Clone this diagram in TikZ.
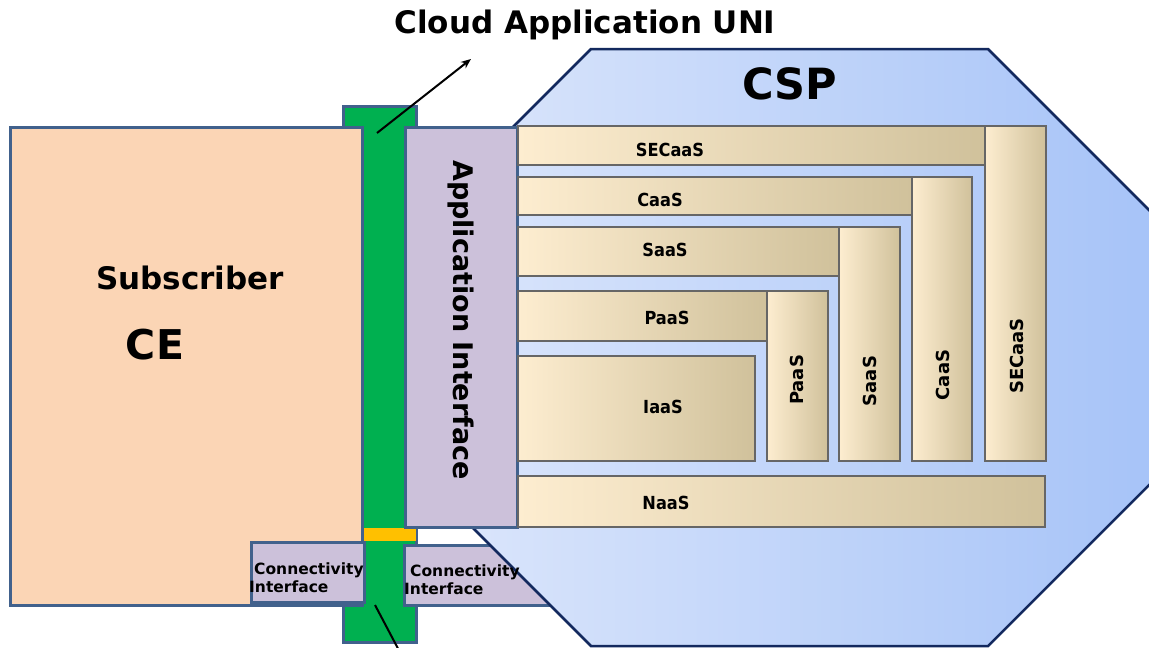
\documentclass[tikz,border=0pt]{standalone}
\usepackage{fontspec}
\setmainfont{DejaVu Sans}
\newfontfamily\condfont{DejaVu Sans Condensed}
\usetikzlibrary{arrows.meta}
\definecolor{peach}{HTML}{FBD5B5}
\definecolor{bordc}{HTML}{41618C}
\definecolor{unigreen}{HTML}{00B050}
\definecolor{uniorange}{HTML}{FFC000}
\definecolor{lav}{HTML}{CCC1DA}
\definecolor{octL}{HTML}{DDE7FB}
\definecolor{octR}{HTML}{A6C3F8}
\definecolor{octB}{HTML}{13295E}
\definecolor{barL}{HTML}{FDEDD0}
\definecolor{barM}{HTML}{EFE6D0}
\definecolor{barR}{HTML}{D0C19B}
\definecolor{barB}{HTML}{666666}
\begin{document}
\begin{tikzpicture}[x=1pt,y=-1pt,
  box/.style={draw=bordc, line width=3pt, inner sep=0pt, outer sep=0pt, anchor=north west},
  bar/.style={draw=barB, line width=2pt, left color=barL, middle color=barM, right color=barR, inner sep=0pt, outer sep=0pt, anchor=north west},
  hlab/.style={font=\condfont\bfseries\fontsize{18}{18}\selectfont, inner sep=0pt},
  vlab/.style={font=\bfseries\fontsize{18}{18}\selectfont, inner sep=0pt, rotate=90},
  cilab/.style={font=\bfseries\fontsize{15.5}{17.5}\selectfont, inner sep=0pt, align=left, anchor=north west},
  conn/.style={line width=2pt, black}
]
\useasboundingbox (0,0) rectangle (1149,648);
\clip (0,0) rectangle (1149,648);
\fill[white] (0,0) rectangle (1149,648);

% green UNI bar and orange strip
\node[box, fill=unigreen, minimum width=73pt, minimum height=536pt] (uni) at (343,106) {};
\node[fill=uniorange, inner sep=0pt, outer sep=0pt, anchor=north west, minimum width=53pt, minimum height=13pt] (strip) at (363,528) {};

% right connectivity box (behind the CSP octagon)
\node[box, fill=lav, minimum width=160pt, minimum height=60pt] (ciR) at (404,545) {};

% CSP octagon
\path[draw=octB, line width=2.5pt, left color=octL, right color=octR]
  (591,49) -- (988,49) -- (1160,221) -- (1160,474) -- (988,646) -- (591,646) -- (419,474) -- (419,221) -- cycle;
\node[font=\bfseries\fontsize{43}{43}\selectfont, inner sep=0pt] (csp) at (790,84) {CSP};

% subscriber
\node[box, fill=peach, minimum width=352pt, minimum height=478pt] (sub) at (10,127) {};
\node[font=\bfseries\fontsize{31}{31}\selectfont, inner sep=0pt] (subl) at (190,278) {Subscriber};
\node[font=\bfseries\fontsize{41}{41}\selectfont, inner sep=0pt] (ce) at (155,345) {CE};

% application interface
\node[box, fill=lav, minimum width=112pt, minimum height=400pt] (ai) at (405,127) {};
\node[font=\bfseries\fontsize{27}{27}\selectfont, inner sep=0pt, rotate=-90] (ail) at (461,320) {Application Interface};

% left connectivity interface
\node[box, fill=lav, minimum width=113pt, minimum height=60pt] (ciL) at (251,542) {};
\node[cilab] (ciLl) at (249,563) {\hspace*{5pt}Connectivity\\Interface};
\node[cilab] (ciRl) at (404,565) {\hspace*{6pt}Connectivity\\Interface};

% service bars
\node[bar, minimum width=467pt, minimum height=39pt] (secH) at (518,126) {};
\node[bar, minimum width=61pt, minimum height=335pt] (secV) at (985,126) {};
\node[bar, minimum width=394pt, minimum height=38pt] (caaH) at (518,177) {};
\node[bar, minimum width=60pt, minimum height=284pt] (caaV) at (912,177) {};
\node[bar, minimum width=321pt, minimum height=49pt] (saaH) at (518,227) {};
\node[bar, minimum width=61pt, minimum height=234pt] (saaV) at (839,227) {};
\node[bar, minimum width=249pt, minimum height=50pt] (paaH) at (518,291) {};
\node[bar, minimum width=61pt, minimum height=170pt] (paaV) at (767,291) {};
\node[bar, minimum width=237pt, minimum height=105pt] (iaa) at (518,356) {};
\node[bar, minimum width=527pt, minimum height=51pt] (naa) at (518,476) {};

\node[hlab] (secHl) at (670,150) {SECaaS};
\node[hlab] (caaHl) at (660,200) {CaaS};
\node[hlab] (saaHl) at (665,250) {SaaS};
\node[hlab] (paaHl) at (667,318) {PaaS};
\node[hlab] (iaal) at (663,407) {IaaS};
\node[hlab] (naal) at (666,503) {NaaS};

\node[vlab] (paaVl) at (797,380) {PaaS};
\node[vlab] (saaVl) at (870,381) {SaaS};
\node[vlab] (caaVl) at (943,375) {CaaS};
\node[vlab] (secVl) at (1017,356) {SECaaS};

% title and pointers
\node[font=\bfseries\fontsize{31}{31}\selectfont, inner sep=0pt] (title) at (585,25) {Cloud Application UNI};
\coordinate (upA) at (377,133);
\coordinate (upB) at (471,59);
\draw[conn, -{Stealth[length=10pt,width=8pt]}] (upA) -- (upB);
\coordinate (dnA) at (375,605);
\coordinate (dnB) at (403,658);
\draw[conn] (dnA) -- (dnB);
\end{tikzpicture}
\end{document}
